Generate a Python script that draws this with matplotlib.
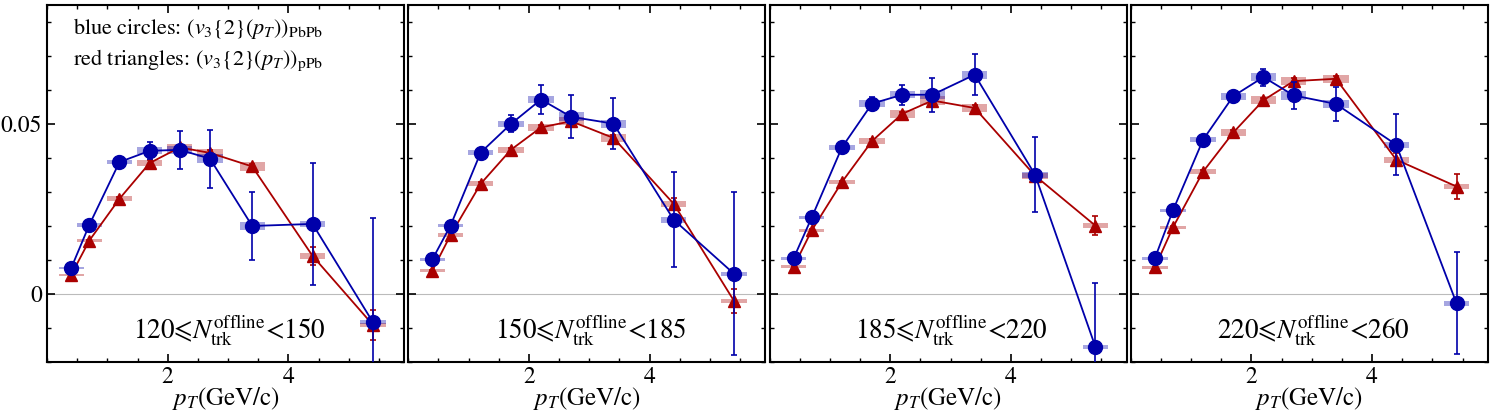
import numpy as np
import matplotlib
matplotlib.use("Agg")
import matplotlib.pyplot as plt
from matplotlib.patches import Rectangle
from matplotlib.ticker import MultipleLocator, FixedLocator

plt.rcParams['font.family'] = 'STIXGeneral'
plt.rcParams['mathtext.fontset'] = 'stix'

# pT bins (GeV/c)
pt = [0.4, 0.7, 1.2, 1.7, 2.2, 2.7, 3.4, 4.4, 5.4]

# multiplicity classes
labels = [r'120⩽$N_{\rm trk}^{\rm offline}$<150',
          r'150⩽$N_{\rm trk}^{\rm offline}$<185',
          r'185⩽$N_{\rm trk}^{\rm offline}$<220',
          r'220⩽$N_{\rm trk}^{\rm offline}$<260']

# v3{2}(pT) PbPb (blue circles)
pbpb_1 = [0.0076, 0.0203, 0.0388, 0.0421, 0.0424, 0.0398, 0.0200, 0.0206, -0.0083]
pbpb_2 = [0.0102, 0.0201, 0.0416, 0.0500, 0.0572, 0.0521, 0.0501, 0.0218, 0.0059]
pbpb_3 = [0.0105, 0.0225, 0.0431, 0.0560, 0.0586, 0.0586, 0.0645, 0.0351, -0.0155]
pbpb_4 = [0.0105, 0.0246, 0.0454, 0.0582, 0.0638, 0.0584, 0.0559, 0.0439, -0.0028]
pbpb_err_1 = [0.0004, 0.0006, 0.0010, 0.0025, 0.0056, 0.0085, 0.0100, 0.0180, 0.0305]
pbpb_err_2 = [0.0004, 0.0006, 0.0010, 0.0025, 0.0042, 0.0063, 0.0076, 0.0140, 0.0240]
pbpb_err_3 = [0.0004, 0.0006, 0.0010, 0.0020, 0.0030, 0.0050, 0.0060, 0.0110, 0.0186]
pbpb_err_4 = [0.0004, 0.0006, 0.0010, 0.0012, 0.0025, 0.0040, 0.0050, 0.0090, 0.0150]

# v3{2}(pT) pPb (red triangles)
ppb_1 = [0.0056, 0.0157, 0.0280, 0.0385, 0.0431, 0.0415, 0.0375, 0.0112, -0.0091]
ppb_2 = [0.0069, 0.0173, 0.0324, 0.0424, 0.0490, 0.0508, 0.0459, 0.0265, -0.0021]
ppb_3 = [0.0080, 0.0187, 0.0329, 0.0450, 0.0530, 0.0569, 0.0547, 0.0348, 0.0201]
ppb_4 = [0.0078, 0.0196, 0.0360, 0.0475, 0.0570, 0.0626, 0.0633, 0.0395, 0.0316]
ppb_err_1 = [0.0002, 0.0003, 0.0004, 0.0008, 0.0008, 0.0008, 0.0008, 0.0027, 0.0043]
ppb_err_2 = [0.0002, 0.0003, 0.0004, 0.0006, 0.0006, 0.0008, 0.0008, 0.0016, 0.0035]
ppb_err_3 = [0.0002, 0.0003, 0.0004, 0.0006, 0.0006, 0.0008, 0.0008, 0.0010, 0.0027]
ppb_err_4 = [0.0002, 0.0003, 0.0004, 0.0006, 0.0006, 0.0008, 0.0008, 0.0020, 0.0037]

# systematic half heights (shared over classes)
pbpb_sys = [0.0004, 0.0005, 0.0007, 0.0010, 0.0011, 0.0013, 0.0012, 0.0009, 0.0006]
ppb_sys = [0.0004, 0.0005, 0.0007, 0.0009, 0.0011, 0.0012, 0.0012, 0.0009, 0.0007]

pbpb = [pbpb_1, pbpb_2, pbpb_3, pbpb_4]
pbpb_err = [pbpb_err_1, pbpb_err_2, pbpb_err_3, pbpb_err_4]
ppb = [ppb_1, ppb_2, ppb_3, ppb_4]
ppb_err = [ppb_err_1, ppb_err_2, ppb_err_3, ppb_err_4]

BLUE = '#0000aa'
RED = '#aa0000'
BOX_W = 0.42

fig, axes = plt.subplots(1, 4, figsize=(14.98, 4.17), dpi=100, sharey=True)
fig.subplots_adjust(left=0.0314, right=0.9933, top=0.988, bottom=0.132, wspace=0.0112)


def sys_boxes(ax, x, y, s, col):
    for xi, yi, si in zip(x, y, s):
        ax.add_patch(Rectangle((xi - BOX_W / 2, yi - si), BOX_W, 2 * si,
                               facecolor=col, edgecolor='none', alpha=0.35, zorder=2))


for i, ax in enumerate(axes):
    ax.axhline(0, color='#bbbbbb', lw=0.8, zorder=1)
    sys_boxes(ax, pt, ppb[i], ppb_sys, RED)
    sys_boxes(ax, pt, pbpb[i], pbpb_sys, BLUE)
    ax.errorbar(pt, ppb[i], yerr=ppb_err[i], color=RED, marker='^', ms=8.5,
                lw=1.3, elinewidth=1.2, capsize=2, capthick=1.2, zorder=3)
    ax.errorbar(pt, pbpb[i], yerr=pbpb_err[i], color=BLUE, marker='o', ms=10,
                lw=1.3, elinewidth=1.2, capsize=2, capthick=1.2, zorder=4)

    ax.set_xlim(0, 5.92)
    ax.set_ylim(-0.02, 0.085)
    ax.xaxis.set_major_locator(FixedLocator([2, 4]))
    ax.xaxis.set_minor_locator(MultipleLocator(0.5))
    ax.yaxis.set_major_locator(MultipleLocator(0.05))
    ax.yaxis.set_minor_locator(MultipleLocator(0.01))
    ax.tick_params(which='both', direction='in', top=True, right=True, labelsize=17)
    ax.tick_params(which='major', length=6, width=1.2)
    ax.tick_params(which='minor', length=3, width=1.0)
    for sp in ax.spines.values():
        sp.set_linewidth(1.5)
    ax.set_xlabel(r'$p_T$(GeV/c)', fontsize=18, labelpad=-2)
    ax.text(0.51, 0.09, labels[i], transform=ax.transAxes, ha='center',
            va='center', fontsize=19.5)
    if i > 0:
        ax.tick_params(labelleft=False)

axes[0].yaxis.set_major_formatter(plt.FuncFormatter(lambda v, p: '0' if abs(v) < 1e-9 else f'{v:.2f}'))
axes[0].text(0.423, 0.935, r'blue circles: $(v_3\{2\}(p_T))_{\rm PbPb}$',
             transform=axes[0].transAxes, ha='center', va='center', fontsize=16)
axes[0].text(0.423, 0.845, r'red triangles: $(v_3\{2\}(p_T))_{\rm pPb}$',
             transform=axes[0].transAxes, ha='center', va='center', fontsize=16)

fig.savefig('out.png', dpi=100)
